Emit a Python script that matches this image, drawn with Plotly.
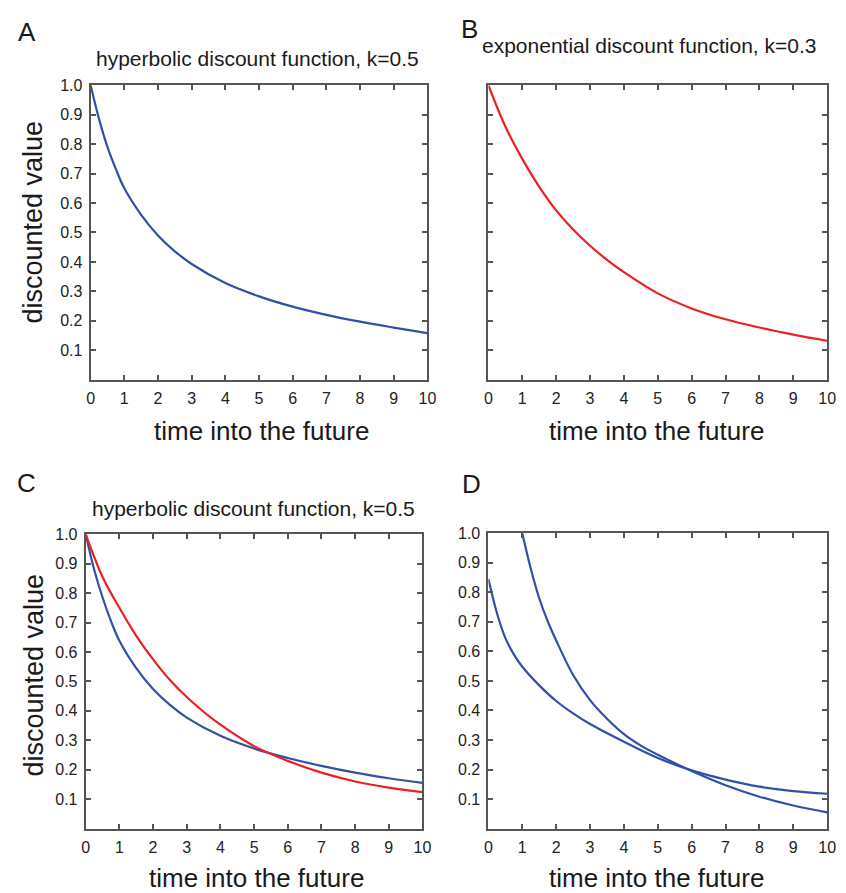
import plotly.graph_objects as go

# Values
t_a = [0, 0.25, 0.5, 0.75, 1, 1.5, 2, 2.5, 3, 4, 5, 6, 7, 8, 9, 10]
hyperbolic_a = [1.0, 0.885, 0.79, 0.715, 0.65, 0.56, 0.49, 0.436, 0.393, 0.328, 0.283, 0.248, 0.22, 0.197, 0.177, 0.158]

t_b = [0, 0.5, 1, 1.5, 2, 2.5, 3, 3.5, 4, 5, 6, 7, 8, 9, 10]
exponential_b = [1.0, 0.86, 0.75, 0.655, 0.575, 0.51, 0.455, 0.407, 0.365, 0.293, 0.242, 0.205, 0.177, 0.153, 0.132]

t_c_hyp = [0, 0.25, 0.5, 0.75, 1, 1.5, 2, 2.5, 3, 4, 5, 6, 7, 8, 9, 10]
hyperbolic_c = [1.0, 0.88, 0.785, 0.705, 0.638, 0.545, 0.474, 0.42, 0.377, 0.315, 0.272, 0.24, 0.213, 0.19, 0.171, 0.155]
t_c_exp = [0, 0.5, 1, 1.5, 2, 2.5, 3, 3.5, 4, 5, 6, 7, 8, 9, 10]
exponential_c = [1.0, 0.855, 0.75, 0.655, 0.575, 0.505, 0.447, 0.397, 0.353, 0.28, 0.23, 0.19, 0.16, 0.139, 0.124]

t_d_early = [0, 0.25, 0.5, 0.75, 1, 1.5, 2, 2.5, 3, 4, 5, 6, 7, 8, 9, 10]
hyperbolic_d_early = [0.845, 0.73, 0.645, 0.59, 0.548, 0.485, 0.432, 0.39, 0.354, 0.294, 0.239, 0.197, 0.166, 0.142, 0.127, 0.118]
t_d_late = [1, 1.25, 1.5, 1.75, 2, 2.5, 3, 3.5, 4, 4.5, 5, 6, 7, 8, 9, 10]
hyperbolic_d_late = [1.0, 0.88, 0.78, 0.702, 0.637, 0.52, 0.435, 0.372, 0.32, 0.281, 0.25, 0.195, 0.147, 0.108, 0.078, 0.055]

x_ticks = list(range(0, 11))
y_ticks = [0.1, 0.2, 0.3, 0.4, 0.5, 0.6, 0.7, 0.8, 0.9, 1.0]

BLUE = "#3350a8"
RED = "#f01e1e"
FONT = "Liberation Sans, Arial, Helvetica, sans-serif"
W, H = 846, 893

fig = go.Figure()

def add_line(x, y, color, n):
    fig.add_trace(go.Scatter(
        x=x, y=y, mode="lines",
        line=dict(color=color, width=2.2, shape="spline", smoothing=1.0),
        xaxis="x" + n, yaxis="y" + n, showlegend=False, hoverinfo="skip",
    ))

add_line(t_a, hyperbolic_a, BLUE, "")
add_line(t_b, exponential_b, RED, "2")
add_line(t_c_hyp, hyperbolic_c, BLUE, "3")
add_line(t_c_exp, exponential_c, RED, "3")
add_line(t_d_early, hyperbolic_d_early, BLUE, "4")
add_line(t_d_late, hyperbolic_d_late, BLUE, "4")

# panel boxes in pixels: left, right, top, bottom
boxes = {
    "": (88, 430, 78, 375),
    "2": (492, 836, 78, 375),
    "3": (83, 425, 531, 828),
    "4": (492, 836, 530, 828),
}

axis_style = dict(
    showline=True, linecolor="#555555", linewidth=2, mirror="ticks",
    ticks="inside", ticklen=5, tickwidth=1.5, tickcolor="#555555",
    showgrid=False, zeroline=False,
    tickfont=dict(family=FONT, size=16, color="#222222"),
)

for n, (l, r, t, b) in boxes.items():
    fig.layout["xaxis" + n] = dict(
        axis_style, domain=[l / W, r / W], range=[0, 10],
        tickvals=x_ticks, anchor="y" + n, ticklabelstandoff=3,
    )
    fig.layout["yaxis" + n] = dict(
        axis_style, domain=[1 - b / H, 1 - t / H], range=[0, 1],
        tickvals=y_ticks, tickformat=".1f", anchor="x" + n,
        showticklabels=(n != "2"), ticklabelstandoff=3,
    )

annotations = []

def text(x, y, s, size, angle=0):
    annotations.append(dict(
        x=x / W, y=1 - y / H, xref="paper", yref="paper", text=s,
        showarrow=False, textangle=angle, xanchor="center", yanchor="middle",
        font=dict(family=FONT, size=size, color="#1a1a1a"),
    ))

# panel letters
text(23, 24, "A", 26)
text(473, 21, "B", 26)
text(23, 479, "C", 26)
text(475, 480, "D", 26)

# panel titles
text(257, 51, "hyperbolic discount function, k=0.5", 21)
text(655, 38, "exponential discount function, k=0.3", 21)
text(253, 505, "hyperbolic discount function, k=0.5", 21)

# axis titles
text(262, 427, "time into the future", 26)
text(663, 427, "time into the future", 26)
text(256, 878, "time into the future", 26)
text(663, 878, "time into the future", 26)
text(30, 216, "discounted value", 27, -90)
text(30, 673, "discounted value", 27, -90)

fig.update_layout(
    width=W, height=H,
    margin=dict(l=0, r=0, t=0, b=0),
    paper_bgcolor="white", plot_bgcolor="white",
    annotations=annotations,
)

fig.write_html(
    "out.html",
    config={"displayModeBar": False},
    post_script="document.body.style.margin='0';document.body.style.overflow='hidden';",
)
